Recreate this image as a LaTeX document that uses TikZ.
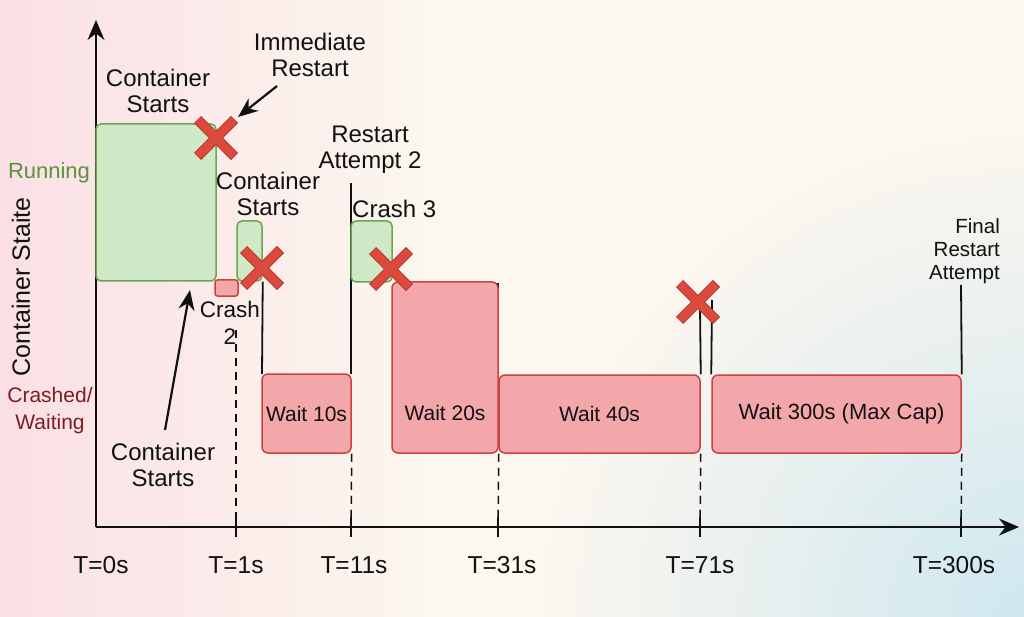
\documentclass[tikz,border=0pt]{standalone}
\usepackage{fontspec}
\setmainfont{Liberation Sans}
\usetikzlibrary{arrows.meta,fadings}
\definecolor{gfill}{HTML}{CFE8C5}
\definecolor{gdraw}{HTML}{6BA552}
\definecolor{rfill}{HTML}{F4A7AA}
\definecolor{rdraw}{HTML}{C9423F}
\definecolor{xred}{HTML}{DC4A3E}
\definecolor{xdark}{HTML}{B83A33}
\definecolor{rungreen}{HTML}{5C9140}
\definecolor{crashred}{HTML}{7A1E22}
\definecolor{bgcream}{HTML}{FCF7EF}
\definecolor{bgpink}{HTML}{FADCE3}
\definecolor{bgblue}{HTML}{CFE8EF}
\definecolor{ink}{HTML}{111111}
\tikzfading[name=softspot, inner color=transparent!0, outer color=transparent!100]
\tikzset{
  runbox/.style={draw=gdraw, fill=gfill, line width=1.5pt, rounded corners=5pt, inner sep=0pt},
  crashbox/.style={draw=rdraw, fill=rfill, line width=1.5pt, rounded corners=2.5pt, inner sep=0pt},
  waitbox/.style={draw=rdraw, fill=rfill, line width=1.5pt, rounded corners=6pt, inner sep=0pt, text=ink, font=\fontsize{21}{24}\selectfont},
  lbl/.style={align=center, text=ink, font=\fontsize{24}{26}\selectfont, inner sep=0pt},
  boxtxt/.style={text=ink, font=\fontsize{21}{24}\selectfont, inner sep=0pt},
  tlbl/.style={text=ink, font=\fontsize{24.5}{26}\selectfont, inner sep=0pt},
  edge/.style={draw=ink, line width=1.8pt},
  guide/.style={draw=ink, line width=1.5pt, dash pattern=on 8pt off 6pt},
  tick/.style={draw=ink, line width=1.5pt},
  axis/.style={draw=ink, line width=2pt, -{Stealth[length=20pt,width=17pt]}},
  ptr/.style={draw=ink, line width=2.2pt, -{Stealth[length=20pt,width=16pt]}},
  pics/crossmark/.style={code={
    \draw[xdark, line width=10pt] (-18.5,-18.5) -- (18.5,18.5) (-18.5,18.5) -- (18.5,-18.5);
    \draw[xred, line width=8pt] (-17.8,-17.8) -- (17.8,17.8) (-17.8,17.8) -- (17.8,-17.8);
  }}
}
\begin{document}
\begin{tikzpicture}[x=1pt,y=-1pt]
\useasboundingbox (0,0) rectangle (1024,617);
\fill[bgcream] (0,0) rectangle (1024,617);
\fill[bgpink, path fading=east, fill opacity=0.85] (0,0) rectangle (420,617);
\begin{scope}
\clip (0,0) rectangle (1024,617);
\fill[bgblue, path fading=softspot] (1024,617) circle (480);
\end{scope}

% axes
\coordinate (O) at (96,527);
\coordinate (ytop) at (96,20);
\coordinate (xend) at (1019,527);
\draw[axis] (O) -- (ytop);
\draw[axis] (O) -- (xend);

% guide lines and ticks
\coordinate (g1top) at (236,330);
\coordinate (t1) at (236,527);
\coordinate (t11) at (351,527);
\coordinate (t31) at (498,527);
\coordinate (t71) at (700,527);
\coordinate (t300) at (961,527);
\foreach \x in {236,351,498,700,961}{
  \draw[tick] (\x,517) -- (\x,537);
}

% vertical edges
\coordinate (v11top) at (351,183);
\coordinate (v71top) at (700,307);
\coordinate (v71btop) at (712,300);
\coordinate (v300top) at (961,285);

% boxes
\node[runbox, minimum width=120pt, minimum height=157pt] (g1) at (156,202.5) {};
\node[crashbox, minimum width=23pt, minimum height=16pt] (r1) at (226.5,288) {};
\node[runbox, minimum width=25pt, minimum height=60pt] (g2) at (249.5,251) {};
\draw[edge] (g2.south east) -- (262,374);
\draw[edge] (v11top) -- (351,374);
\node[waitbox, minimum width=89pt, minimum height=79pt] (w10) at (306.5,413.5) {Wait 10s};
\node[runbox, minimum width=41pt, minimum height=61pt] (g3) at (371.5,251.5) {};
\draw[edge, line width=1.2pt] (498,283) -- (498,375);
\node[waitbox, minimum width=106pt, minimum height=171pt] (w20) at (445,367.5) {};
\node[boxtxt] (w20t) at (445,413) {Wait 20s};
\node[waitbox, minimum width=201pt, minimum height=78pt] (w40) at (599.5,414) {Wait 40s};
\draw[edge] (v71top) -- (w40.north east);
\node[waitbox, minimum width=249pt, minimum height=78pt, font=\fontsize{22}{24}\selectfont] (w300) at (836.5,414) {\hspace*{10pt}Wait 300s (Max Cap)};
\draw[edge] (v71btop) -- (w300.north west);
\draw[edge] (v300top) -- (w300.north east);

% dashed guides
\draw[guide] (g1top) -- (t1);
\draw[guide] (w10.south east) -- (t11);
\draw[guide] (w20.south east) -- (t31);
\draw[guide] (w40.south east) -- (t71);
\draw[guide] (w300.south east) -- (t300);

% crash marks
\pic (x1) at (216,138) {crossmark};
\pic (x2) at (262,268) {crossmark};
\pic (x3) at (391,269) {crossmark};
\pic (x4) at (698,302) {crossmark};

% labels
\node[lbl] (cs1) at (158,91) {Container\\Starts};
\node[lbl] (ir) at (310,55) {Immediate\\Restart};
\coordinate (a1s) at (277,86);
\coordinate (a1e) at (238,117);
\draw[ptr] (a1s) -- (a1e);
\node[lbl] (cs2) at (268,194) {Container\\Starts};
\node[lbl] (ra2) at (370,150) {Restart\\Attempt 2};
\node[lbl, anchor=west] (c3) at (352,209) {Crash 3};
\node[lbl, font=\fontsize{22.5}{27}\selectfont] (c2) at (230,323) {Crash\\2};
\node[lbl] (cs3) at (163,465) {Container\\Starts};
\coordinate (a2s) at (165,430);
\coordinate (a2e) at (190,290);
\draw[ptr] (a2s) -- (a2e);
\node[lbl, align=right, anchor=east, font=\fontsize{20.5}{23}\selectfont] (fra) at (1000,251) {Final\\Restart\\Attempt};

\node[lbl, text=rungreen, font=\fontsize{22}{26}\selectfont] (run) at (49,173) {Running};
\node[lbl, font=\fontsize{25}{28}\selectfont, rotate=90] (cst) at (21,287) {Container Staite};
\node[lbl, text=crashred, font=\fontsize{21}{27}\selectfont] (crw) at (50,411) {Crashed/\\Waiting};

% time labels
\node[tlbl] (T0) at (101,565) {T=0s};
\node[tlbl] (T1) at (236,565) {T=1s};
\node[tlbl] (T11) at (354,565) {T=11s};
\node[tlbl] (T31) at (502,565) {T=31s};
\node[tlbl] (T71) at (700,565) {T=71s};
\node[tlbl] (T300) at (954,565) {T=300s};
\end{tikzpicture}
\end{document}
